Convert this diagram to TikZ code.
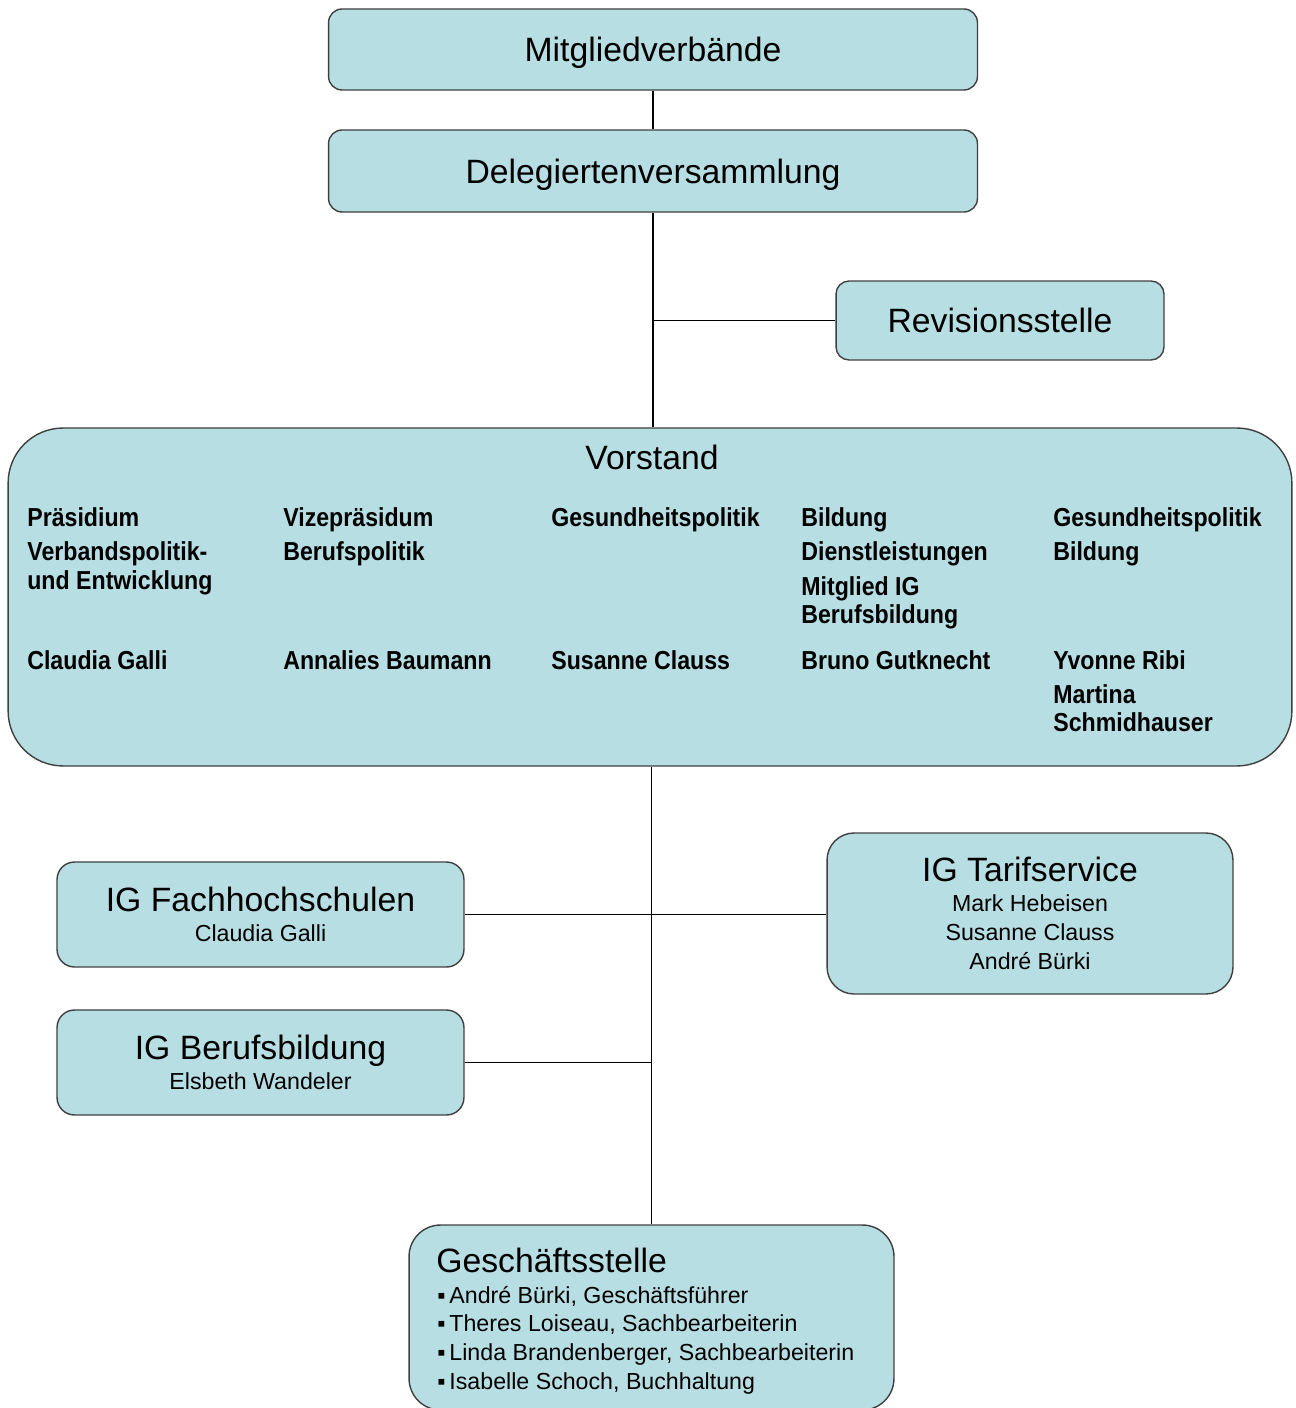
\documentclass[tikz,border=0pt]{standalone}
\usepackage{fontspec}
\setmainfont{Liberation Sans}
\newfontfamily\narrowfont[FakeStretch=0.89]{Liberation Sans}
\usetikzlibrary{positioning,calc}

\definecolor{boxfill}{HTML}{B7DEE3}
\definecolor{boxline}{HTML}{404040}

\begin{document}
\begin{tikzpicture}[x=0.02cm,y=-0.02cm,
    box/.style={draw=boxline,fill=boxfill,line width=0.8pt,inner sep=0pt},
    one/.style={font=\fontsize{19.2}{23}\selectfont,text height=13.7pt,text depth=0pt},
    ig/.style={align=center,font=\fontsize{13.2}{16.5}\selectfont},
    head/.style={inner sep=0pt,font=\fontsize{19.2}{23}\selectfont},
    vs/.style={anchor=base west,inner sep=0pt,font=\narrowfont\bfseries\fontsize{14.8}{17}\selectfont},
    gsline/.style={anchor=base west,inner sep=0pt,font=\fontsize{13.2}{16.5}\selectfont},
    link/.style={draw=black,line width=0.85pt}
  ]
  \useasboundingbox[fill=white] (0,0) rectangle (1295,1408);

  % top
  \node[box,one,minimum width=12.98cm,minimum height=1.62cm,rounded corners=0.27cm] (mitglied) at (653,49.5) {Mitgliedverbände};
  \node[box,one,minimum width=12.98cm,minimum height=1.64cm,rounded corners=0.27cm] (deleg) at (653,171) {Delegiertenversammlung};
  \node[box,one,minimum width=6.56cm,minimum height=1.58cm,rounded corners=0.26cm] (revision) at (1000,320.5) {Revisionsstelle};

  % Vorstand
  \node[box,minimum width=25.68cm,minimum height=6.76cm,rounded corners=1.1cm] (vorstand) at (650,597) {};
  \node[head,anchor=base] (vtitle) at (652,470) {Vorstand};
  \foreach \x/\y/\t [count=\i] in {
      27/526/Präsidium, 27/560/Verbandspolitik-, 27/589/und Entwicklung, 27/669/Claudia Galli,
      283/526/Vizepräsidum, 283/560/Berufspolitik, 283/669/Annalies Baumann,
      551/526/Gesundheitspolitik, 551/669/Susanne Clauss,
      801/526/Bildung, 801/560/Dienstleistungen, 801/595/Mitglied IG, 801/623/Berufsbildung, 801/669/Bruno Gutknecht,
      1053/526/Gesundheitspolitik, 1053/560/Bildung, 1053/669/Yvonne Ribi, 1053/703/Martina, 1053/731/Schmidhauser} {
    \node[vs] (v\i) at (\x,\y) {\t};
  }

  % IG
  \node[box,ig,minimum width=8.14cm,minimum height=2.1cm,rounded corners=0.35cm] (igfh) at (260.5,914.5)
    {{\fontsize{19.2}{23}\selectfont IG Fachhochschulen}\\[0.6pt]Claudia Galli};
  \node[box,ig,minimum width=8.14cm,minimum height=2.1cm,rounded corners=0.35cm] (igbb) at (260.5,1062.5)
    {{\fontsize{19.2}{23}\selectfont IG Berufsbildung}\\[0.6pt]Elsbeth Wandeler};
  \node[box,ig,minimum width=8.12cm,minimum height=3.22cm,rounded corners=0.54cm] (igtarif) at (1030,913.5)
    {{\fontsize{19.2}{23}\selectfont IG Tarifservice}\\[0.6pt]Mark Hebeisen\\Susanne Clauss\\André Bürki};

  % Geschaeftsstelle
  \node[box,minimum width=9.7cm,minimum height=3.7cm,rounded corners=0.63cm] (gs) at (651.5,1317.5) {};
  \node[head,anchor=base west] (gstitle) at (436,1272) {Geschäftsstelle};
  \foreach \t [count=\i] in {{André Bürki, Geschäftsführer},{Theres Loiseau, Sachbearbeiterin},
      {Linda Brandenberger, Sachbearbeiterin},{Isabelle Schoch, Buchhaltung}} {
    \node[gsline] (gs\i) at (437,{1303+28.7*(\i-1)}) {▪\,\t};
  }

  % lines
  \draw[link] (mitglied) -- (deleg);
  \draw[link] (deleg.south) -- (deleg.south |- vorstand.north);
  \draw[link] (deleg.south |- revision.west) -- (revision.west);
  \draw[link] (gs.north |- vorstand.south) -- (gs.north);
  \draw[link] (igfh.east) -- (igfh.east -| igtarif.west);
  \draw[link] (igbb.east) -- (igbb.east -| gs.north);
\end{tikzpicture}
\end{document}
